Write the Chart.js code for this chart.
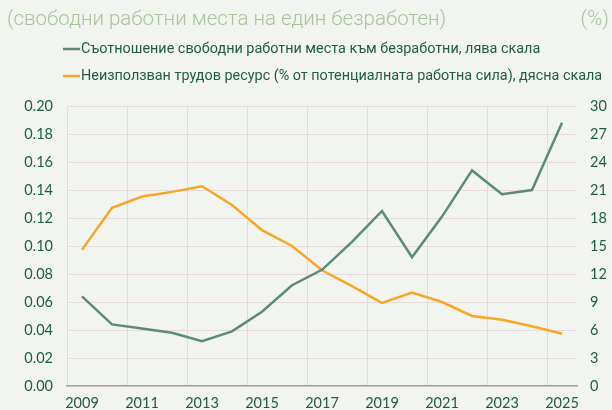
<!DOCTYPE html>
<html lang="bg">

<head>
  <meta charset="utf-8">
  <title>Свободни работни места и неизползван трудов ресурс</title>
  <script src="https://cdn.jsdelivr.net/npm/chart.js"></script>
  <style>
    html, body { margin: 0; padding: 0; background: #f2f4ef; }
    #wrap { width: 612px; height: 410px; }
  </style>
</head>

<body>
  <div id="wrap"><canvas id="myChart" width="612" height="410"></canvas></div>
  <script>
    // data
    var years = ['2009', '2010', '2011', '2012', '2013', '2014', '2015', '2016', '2017',
      '2018', '2019', '2020', '2021', '2022', '2023', '2024', '2025'];
    var vacancyRatio = [0.064, 0.044, 0.041, 0.038, 0.032, 0.039, 0.053, 0.072, 0.083,
      0.103, 0.125, 0.092, 0.121, 0.154, 0.137, 0.140, 0.188];
    var labourSlack = [14.6, 19.1, 20.3, 20.8, 21.4, 19.4, 16.7, 15.0, 12.4,
      10.7, 8.9, 10.0, 9.0, 7.5, 7.1, 6.4, 5.6];
    var leftTicks = [0, 0.02, 0.04, 0.06, 0.08, 0.10, 0.12, 0.14, 0.16, 0.18, 0.20];
    var rightTicks = [0, 3, 6, 9, 12, 15, 18, 21, 24, 27, 30];

    var titleLeft = '(свободни работни места на един безработен)';
    var titleRight = '(%)';
    var seriesNames = [
      'Съотношение свободни работни места към безработни, лява скала',
      'Неизползван трудов ресурс (% от потенциалната работна сила), дясна скала'
    ];

    var green = '#5b8b78';
    var orange = '#f7a628';
    var textColor = '#1f5c47';
    var gridColor = '#e6dbd8';
    var tickFont = { family: 'Lato', size: 14.5 };

    // title, legend and background drawn by hand so they sit where the original has them
    var headerPlugin = {
      id: 'header',
      beforeDraw: function (chart) {
        var c = chart.ctx;
        c.save();
        c.fillStyle = '#f2f4ef';
        c.fillRect(0, 0, chart.width, chart.height);
        c.restore();
      },
      afterDraw: function (chart) {
        var c = chart.ctx;
        c.save();
        c.fillStyle = '#a8c39d';
        c.font = '300 20.5px Roboto';
        c.textBaseline = 'middle';
        c.textAlign = 'left';
        c.fillText(titleLeft, 7, 20);
        c.textAlign = 'right';
        c.fillText(titleRight, 609, 20);

        c.font = '14.4px Roboto';
        c.textAlign = 'left';
        chart.data.datasets.forEach(function (ds, i) {
          var y = 49 + i * 27;
          c.strokeStyle = ds.borderColor;
          c.lineWidth = 2.5;
          c.beginPath();
          c.moveTo(63, y);
          c.lineTo(80, y);
          c.stroke();
          c.fillStyle = textColor;
          c.fillText(ds.label, 81, y + 0.5);
        });
        c.restore();
      }
    };

    var ctx = document.getElementById('myChart').getContext('2d');
    var myChart = new Chart(ctx, {
      type: 'line',
      data: {
        labels: years,
        datasets: [{
          label: seriesNames[0],
          data: vacancyRatio,
          yAxisID: 'y',
          borderColor: green,
          borderWidth: 2.5,
          pointRadius: 0,
          tension: 0
        }, {
          label: seriesNames[1],
          data: labourSlack,
          yAxisID: 'y1',
          borderColor: orange,
          borderWidth: 2.5,
          pointRadius: 0,
          tension: 0
        }]
      },
      options: {
        responsive: false,
        animation: false,
        layout: { padding: { top: 106, left: 0, right: 0, bottom: 0 } },
        plugins: {
          legend: { display: false },
          title: { display: false },
          tooltip: { enabled: false }
        },
        scales: {
          x: {
            offset: true,
            afterFit: function (axis) { axis.height = 24; },
            grid: {
              offset: true,
              drawTicks: false,
              color: function (c) { return c.index % 2 === 0 ? gridColor : 'rgba(0,0,0,0)'; }
            },
            border: { color: '#a3a3a3', width: 1.5 },
            ticks: {
              autoSkip: false,
              maxRotation: 0,
              padding: 9,
              color: textColor,
              font: tickFont,
              callback: function (v, i) { return i % 2 === 0 ? years[i] : ''; }
            }
          },
          y: {
            position: 'left',
            min: 0,
            max: 0.2,
            afterBuildTicks: function (axis) {
              axis.ticks = leftTicks.map(function (v) { return { value: v }; });
            },
            afterFit: function (axis) { axis.width = 67; },
            grid: { color: gridColor, drawTicks: false },
            border: { display: false },
            ticks: {
              padding: 14,
              color: textColor,
              font: tickFont,
              callback: function (v) { return v.toFixed(2); }
            }
          },
          y1: {
            position: 'right',
            min: 0,
            max: 30,
            afterBuildTicks: function (axis) {
              axis.ticks = rightTicks.map(function (v) { return { value: v }; });
            },
            afterFit: function (axis) { axis.width = 35; },
            grid: { drawOnChartArea: false, drawTicks: false },
            border: { display: false },
            ticks: {
              padding: 13,
              color: textColor,
              font: tickFont,
              callback: function (v) { return String(v); }
            }
          }
        }
      },
      plugins: [headerPlugin]
    });
  </script>
</body>

</html>
